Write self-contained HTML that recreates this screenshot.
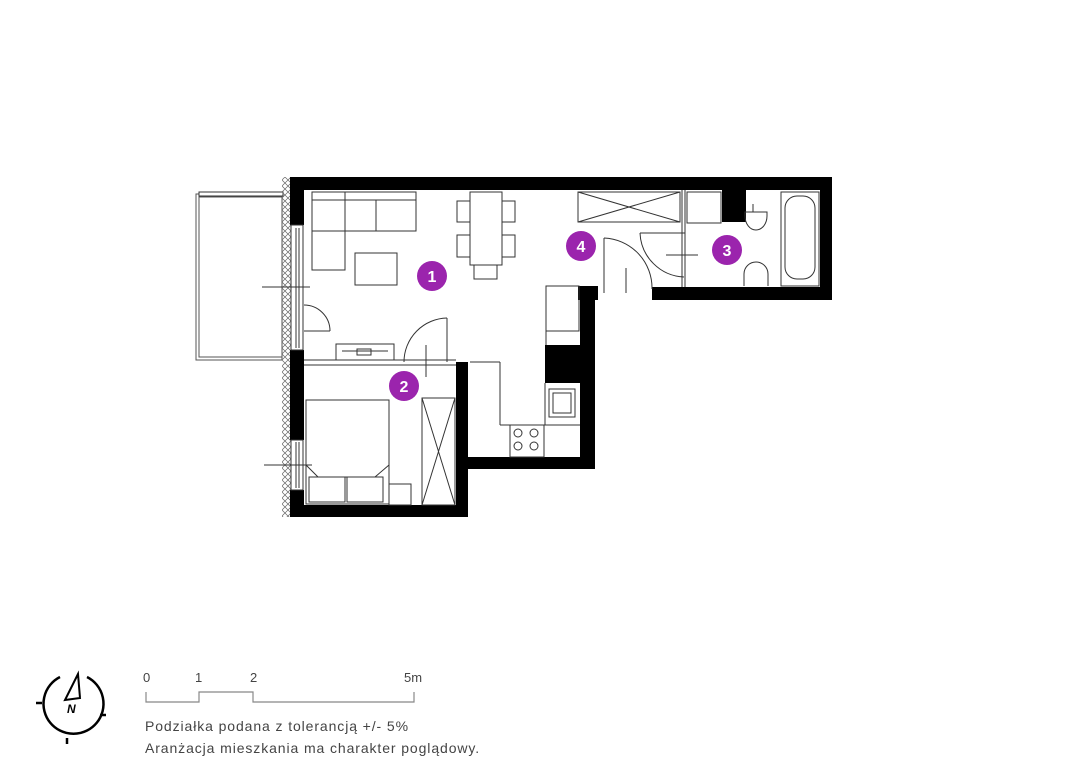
<!DOCTYPE html>
<html><head><meta charset="utf-8"><style>
html,body{margin:0;padding:0;background:#fff;width:1076px;height:782px;overflow:hidden}
svg{display:block}
</style></head><body>
<svg width="1076" height="782" viewBox="0 0 1076 782" xmlns="http://www.w3.org/2000/svg" font-family="Liberation Sans, sans-serif">
<defs>
<pattern id="hatch" width="6" height="6" patternUnits="userSpaceOnUse">
<path d="M0 0L6 6M6 0L0 6" stroke="#666" stroke-width="0.7"/>
</pattern>
</defs>
<g fill="none" stroke="#555" stroke-width="1">
<rect x="196" y="194" width="86" height="166"/>
<rect x="199" y="197" width="83" height="160"/>
<rect x="199" y="192" width="84" height="4" fill="#fff" stroke="#333"/>
</g>
<rect x="282" y="177" width="9" height="340" fill="url(#hatch)"/>
<g fill="#000">
<rect x="290" y="177" width="542" height="13"/>
<rect x="290" y="177" width="14" height="48"/>
<rect x="290" y="350" width="14" height="90"/>
<rect x="290" y="490" width="14" height="27"/>
<rect x="290" y="505" width="178" height="12"/>
<rect x="456" y="362" width="12" height="155"/>
<rect x="456" y="457" width="139" height="12"/>
<rect x="580" y="288" width="15" height="181"/>
<rect x="578" y="286" width="20" height="14"/>
<rect x="545" y="345" width="36" height="38"/>
<rect x="820" y="177" width="12" height="123"/>
<rect x="652" y="287" width="180" height="13"/>
<rect x="722" y="188" width="24" height="34"/>
</g>
<g fill="none" stroke="#333" stroke-width="1">
<rect x="291" y="225" width="12" height="125" fill="#fff"/>
<line x1="296" y1="228" x2="296" y2="348"/><line x1="299" y1="228" x2="299" y2="348"/>
<rect x="291" y="440" width="12" height="50" fill="#fff"/>
<line x1="296" y1="442" x2="296" y2="488"/><line x1="299" y1="442" x2="299" y2="488"/>
<line x1="262" y1="287" x2="310" y2="287"/>
<line x1="264" y1="465" x2="312" y2="465"/>
<path d="M304 305 A 26 26 0 0 1 330 331" /><line x1="304" y1="331" x2="330" y2="331"/>
<line x1="304" y1="360" x2="456" y2="360"/><line x1="304" y1="365" x2="456" y2="365"/>
<line x1="447" y1="318" x2="447" y2="362"/>
<path d="M447 318 A 44 44 0 0 0 404 362"/>
<line x1="426" y1="345" x2="426" y2="377"/>
<rect x="312" y="192" width="104" height="39"/>
<line x1="345" y1="200" x2="345" y2="231"/><line x1="376" y1="200" x2="376" y2="231"/>
<rect x="312" y="192" width="33" height="78"/>
<line x1="312" y1="200" x2="416" y2="200"/>
<rect x="355" y="253" width="42" height="32"/>
<rect x="470" y="192" width="32" height="73"/>
<rect x="457" y="201" width="13" height="21"/><rect x="457" y="235" width="13" height="22"/>
<rect x="502" y="201" width="13" height="21"/><rect x="502" y="235" width="13" height="22"/>
<rect x="474" y="265" width="23" height="14"/>
<rect x="336" y="344" width="58" height="16"/>
<line x1="342" y1="351" x2="388" y2="351"/><rect x="357" y="349" width="14" height="6"/>
<rect x="578" y="192" width="102" height="30"/>
<line x1="578" y1="192" x2="680" y2="222"/><line x1="680" y1="192" x2="578" y2="222"/>
<line x1="604" y1="238" x2="604" y2="293"/>
<path d="M604 238 A 50 50 0 0 1 652 289"/>
<line x1="626" y1="268" x2="626" y2="293"/>
<rect x="546" y="286" width="33" height="45"/>
<line x1="546" y1="331" x2="546" y2="345"/>
<line x1="470" y1="362" x2="500" y2="362"/>
<line x1="500" y1="362" x2="500" y2="425"/>
<line x1="500" y1="425" x2="580" y2="425"/>
<line x1="545" y1="383" x2="545" y2="425"/>
<rect x="549" y="389" width="26" height="28"/><rect x="553" y="393" width="18" height="20"/>
<rect x="510" y="425" width="34" height="32"/>
<circle cx="518" cy="433" r="4"/><circle cx="534" cy="433" r="4"/><circle cx="518" cy="446" r="4"/><circle cx="534" cy="446" r="4"/>
<rect x="306" y="400" width="83" height="104"/>
<rect x="309" y="477" width="36" height="25"/><rect x="347" y="477" width="36" height="25"/>
<path d="M306 465 L318 477 L375 477 L389 465"/>
<rect x="389" y="484" width="22" height="21"/>
<rect x="422" y="398" width="33" height="107"/>
<line x1="422" y1="398" x2="455" y2="505"/><line x1="455" y1="398" x2="422" y2="505"/>
<line x1="682" y1="190" x2="682" y2="287"/><line x1="685" y1="190" x2="685" y2="287"/>
<rect x="687" y="192" width="34" height="31"/>
<line x1="640" y1="233" x2="685" y2="233"/>
<path d="M640 233 A 46 46 0 0 0 684 277"/>
<line x1="666" y1="255" x2="698" y2="255"/>
<rect x="781" y="192" width="38" height="94"/>
<rect x="785" y="196" width="30" height="83" rx="12"/>
<path d="M753 204 L753 212 M745 212 L767 212 L767 216 A 11 14 0 1 1 745 216 Z"/>
<path d="M744 286 L744 274 A 12 12 0 0 1 768 274 L768 286"/>
</g>
<g font-weight="bold" font-size="16" fill="#fff" text-anchor="middle">
<circle cx="432" cy="276" r="15" fill="#9b24ad"/><text x="432" y="282">1</text>
<circle cx="404" cy="386" r="15" fill="#9b24ad"/><text x="404" y="392">2</text>
<circle cx="727" cy="250" r="15" fill="#9b24ad"/><text x="727" y="256">3</text>
<circle cx="581" cy="246" r="15" fill="#9b24ad"/><text x="581" y="252">4</text>
</g>
<g fill="none" stroke="#000" stroke-width="2.5">
<path d="M87 677 A 30 30 0 1 1 60 677"/>
<line x1="36" y1="703" x2="42" y2="703"/>
<line x1="100" y1="715" x2="106" y2="715"/>
<line x1="67" y1="738" x2="67" y2="744"/>
<path d="M78 674 L65 700 L80 698 Z M78 674 L80 698" stroke-width="2"/>
</g>
<text x="67" y="713" font-size="12" font-weight="bold" font-style="italic">N</text>
<g fill="none" stroke="#888" stroke-width="1.2">
<path d="M146 692 V702 H199 V692 H253 V702 H414 V692"/>
</g>
<g font-size="13" fill="#444">
<text x="143" y="682">0</text><text x="195" y="682">1</text><text x="250" y="682">2</text><text x="404" y="682">5m</text>
</g>
<g font-size="14" fill="#444" letter-spacing="0.9">
<text x="145" y="731">Podziałka podana z tolerancją +/- 5%</text>
<text x="145" y="753">Aranżacja mieszkania ma charakter poglądowy.</text>
</g>
</svg>
</body></html>
